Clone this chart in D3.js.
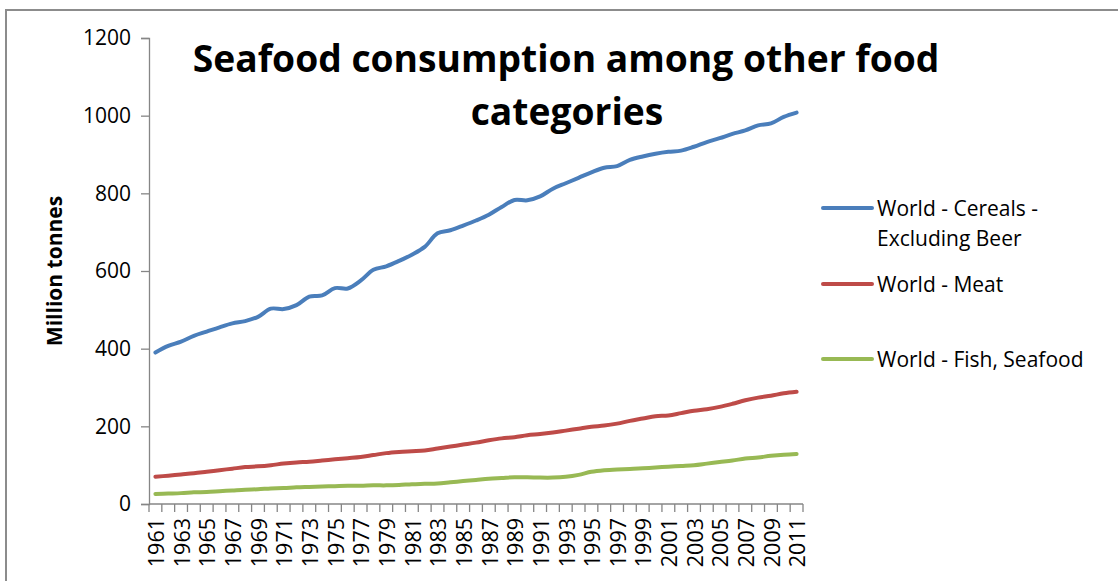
<!DOCTYPE html>
<html>
<head>
<meta charset="utf-8">
<script src="https://cdn.jsdelivr.net/npm/d3@7"></script>
<style>
  html, body { margin: 0; padding: 0; background: #fff; }
  svg { display: block; }
  text { font-family: "Open Sans", "Noto Sans", sans-serif; fill: #000; }
</style>
</head>
<body>
<script>
const years = d3.range(1961, 2012).map(String);
const cereals = [390, 407, 418, 433, 444, 455, 465, 471, 482, 503,
  502, 512, 534, 537, 556, 555, 575, 603, 612, 626,
  642, 662, 697, 705, 717, 730, 745, 765, 783, 782,
  792, 812, 826, 840, 854, 866, 870, 886, 895, 902,
  907, 910, 920, 932, 942, 953, 962, 975, 980, 997, 1008];
const meat = [70, 73, 76, 79, 83, 87, 91, 95, 97, 100,
  104, 107, 109, 112, 115, 118, 121, 126, 131, 134,
  136, 138, 143, 148, 153, 158, 164, 169, 172, 177,
  180, 184, 189, 194, 199, 202, 207, 214, 220, 226,
  228, 234, 240, 244, 250, 258, 267, 274, 279, 285, 289];
const fish = [26, 27, 28, 30, 31, 33, 35, 37, 38, 40,
  41, 43, 44, 45, 46, 47, 47, 48, 48, 49,
  51, 52, 53, 56, 59, 62, 65, 67, 69, 69,
  68, 68, 70, 75, 83, 87, 89, 90, 92, 94,
  96, 98, 100, 104, 108, 112, 117, 120, 124, 127, 129];
const seriesNames = ["World - Cereals - Excluding Beer", "World - Meat", "World - Fish, Seafood"];
const seriesColors = ["#4A7EBB", "#BE4B48", "#98B954"];
const yTicks = [0, 200, 400, 600, 800, 1000, 1200];
const titleLines = ["Seafood consumption among other food", "categories"];
const yTitle = "Million tonnes";

(function () {
const W = 1118, H = 581;
const svg = d3.select("body").append("svg").attr("width", W).attr("height", H);

// outer border
svg.append("rect").attr("x", 6).attr("y", 10).attr("width", W + 20).attr("height", H + 20)
  .attr("fill", "#fff").attr("stroke", "#8c8c8c").attr("stroke-width", 2);

const pLeft = 149, pRight = 803, pTop = 38, pBottom = 504;
const x = d3.scaleBand().domain(years).range([pLeft, pRight]).padding(0);
const y = d3.scaleLinear().domain([0, 1200]).range([pBottom, pTop]);

const axisColor = "#868686";

// Y axis
const yAxis = svg.append("g").attr("transform", `translate(${pLeft},0)`)
  .call(d3.axisLeft(y).tickValues(yTicks).tickSize(8).tickPadding(10).tickFormat(d3.format("d")));
yAxis.select(".domain").attr("stroke", axisColor).attr("stroke-width", 1.3);
yAxis.selectAll(".tick line").attr("stroke", axisColor).attr("stroke-width", 1.3);
yAxis.selectAll(".tick text").attr("font-size", 21).attr("fill", "#000")
  .style("font-family", "'Open Sans', sans-serif");

// X axis: line + boundary ticks
const xg = svg.append("g");
xg.append("line").attr("x1", pLeft).attr("x2", pRight).attr("y1", pBottom).attr("y2", pBottom)
  .attr("stroke", axisColor).attr("stroke-width", 1.3);
const boundaries = years.map(d => x(d)).concat([x(years[years.length - 1]) + x.bandwidth()]);
xg.selectAll("line.tk").data(boundaries).join("line").attr("class", "tk")
  .attr("x1", d => d).attr("x2", d => d).attr("y1", pBottom).attr("y2", pBottom + 8)
  .attr("stroke", axisColor).attr("stroke-width", 1.3);
xg.selectAll("text.xl").data(years.filter((d, i) => i % 2 === 0)).join("text").attr("class", "xl")
  .attr("transform", d => `translate(${x(d) + x.bandwidth() / 2 + 1},${pBottom + 14}) rotate(-90)`)
  .attr("text-anchor", "end").attr("dy", "0.36em").attr("font-size", 21.5)
  .text(d => d);

// lines
const line = d3.line().x((d, i) => x(years[i]) + x.bandwidth() / 2).y(d => y(d))
  .curve(d3.curveCatmullRom.alpha(0.5));
[cereals, meat, fish].forEach((s, k) => {
  svg.append("path").datum(s).attr("d", line).attr("fill", "none")
    .attr("stroke", seriesColors[k]).attr("stroke-width", 4)
    .attr("stroke-linejoin", "round").attr("stroke-linecap", "round");
});

// Y title
svg.append("text").attr("transform", "translate(62,271) rotate(-90)")
  .attr("text-anchor", "middle").attr("font-size", 21).attr("font-weight", "bold").text(yTitle);

// Title (two lines), fit first line width
const t1 = svg.append("text").attr("x", 566).attr("y", 72).attr("text-anchor", "middle")
  .attr("font-weight", "bold").attr("font-size", 40).text(titleLines[0]);
const w1 = t1.node().getComputedTextLength();
const fs = 40 * 747 / w1;
t1.attr("font-size", fs);
svg.append("text").attr("x", 567).attr("y", 125).attr("text-anchor", "middle")
  .attr("font-weight", "bold").attr("font-size", fs).text(titleLines[1]);

// Legend
const legendRows = [
  { lines: ["World - Cereals -", "Excluding Beer"], y: 208 },
  { lines: ["World - Meat"], y: 284 },
  { lines: ["World - Fish, Seafood"], y: 359 }
];
legendRows.forEach((r, k) => {
  svg.append("line").attr("x1", 823).attr("x2", 872).attr("y1", r.y).attr("y2", r.y)
    .attr("stroke", seriesColors[k]).attr("stroke-width", 4).attr("stroke-linecap", "round");
  const t = svg.append("text").attr("x", 877).attr("y", r.y)
    .attr("font-size", 21).attr("fill", "#000");
  r.lines.forEach((l, j) => {
    t.append("tspan").attr("x", 877).attr("dy", j === 0 ? "0.36em" : "1.43em").text(l);
  });
});
})();
</script>
</body>
</html>
